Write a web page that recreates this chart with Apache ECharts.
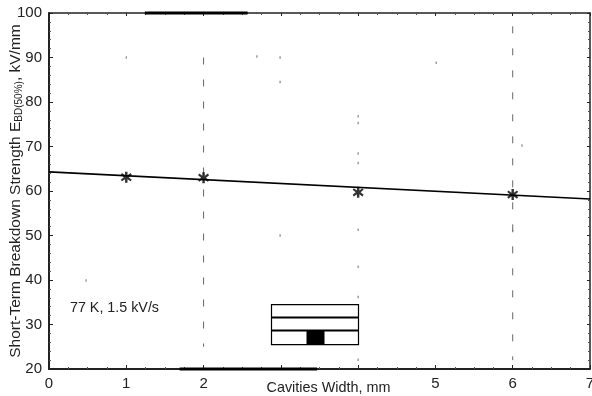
<!DOCTYPE html>
<html>
<head>
<meta charset="utf-8">
<style>html,body{margin:0;padding:0;background:#fff}#chart{width:592px;height:396px}</style>
<script src="https://cdn.jsdelivr.net/npm/echarts@6/dist/echarts.min.js"></script>
</head>
<body>
<div id="chart"></div>
<script>
const widths = [1, 2, 4, 6];
const strengths = [63.1, 63.0, 59.7, 59.2];
const fitX = [0, 7];
const fitY = [64.3, 58.2];
const xTickLabels = [0, 1, 2, 5, 6, 7];
const dashColumns = { 2: [90, 25], 6: [97, 22] };
const scanTop = [1.24, 2.57];
const scanBottom = [1.69, 3.47];
// stray specks left over from the scan
const specks = [[1, 90], [2.69, 90.2], [2.99, 90], [2.99, 84.5], [5.01, 88.8], [4, 76.8], [4, 75.3], [4, 68.4], [4, 66.3],
  [6.12, 70.2], [2.99, 50], [0.48, 39.9], [4, 51.3], [4, 43], [4, 36.2], [4, 22.1], [6, 51]];

const chart = echarts.init(document.getElementById('chart'));
const dark = '#222';

const dashSeries = Object.keys(dashColumns).map((k) => ({
  type: 'line',
  data: [[+k, dashColumns[k][0]], [+k, dashColumns[k][1]]],
  symbol: 'none',
  silent: true,
  lineStyle: { color: '#666', width: 1, type: [7, 15] }
}));

const edge = (range, y) => ({
  type: 'line',
  data: [[range[0], y], [range[1], y]],
  symbol: 'none',
  clip: false,
  silent: true,
  lineStyle: { color: '#000', width: 3 }
});

const insetX = 269, insetY = 304, insetW = 87, insetH = 40;

chart.setOption({
  animation: false,
  grid: { left: 49, right: 2, top: 13, bottom: 27, outerBoundsMode: 'none' },
  xAxis: [
    {
      type: 'value', min: 0, max: 7, interval: 1,
      name: 'Cavities Width, mm',
      nameLocation: 'middle',
      nameMoveOverlap: false,
      nameGap: 12,
      nameTextStyle: { color: dark, fontSize: 14.4, fontFamily: 'Liberation Sans', padding: [0, 0, 0, 18], verticalAlign: 'top' },
      axisLine: { lineStyle: { color: dark, width: 2 } },
      axisTick: { inside: true, length: 4, lineStyle: { color: dark } },
      minorTick: { show: true, splitNumber: 4, length: 2, lineStyle: { color: '#555' } },
      axisLabel: {
        color: dark, fontSize: 15, fontFamily: 'Liberation Sans', margin: 7, hideOverlap: false, showMaxLabel: true, showMinLabel: true,
        formatter: (v) => (xTickLabels.includes(v) ? String(v) : '')
      },
      splitLine: { show: false }
    },
    {
      type: 'value', min: 0, max: 7, interval: 1, position: 'top',
      axisLine: { onZero: false, lineStyle: { color: dark, width: 1.5 } },
      axisTick: { inside: true, length: 3, lineStyle: { color: dark } },
      minorTick: { show: true, splitNumber: 4, length: 2, lineStyle: { color: '#555' } },
      axisLabel: { show: false },
      splitLine: { show: false }
    }
  ],
  yAxis: [
    {
      type: 'value', min: 20, max: 100, interval: 10,
      name: '{a|Short-Term Breakdown Strength E}{b|BD(50%)}{a|, kV/mm}',
      nameLocation: 'middle',
      nameMoveOverlap: false,
      nameGap: 25,
      nameTextStyle: {
        rich: {
          a: { color: dark, fontSize: 15.5, fontFamily: 'Liberation Sans' },
          b: { color: dark, fontSize: 10, fontFamily: 'Liberation Sans', verticalAlign: 'bottom', padding: [6, 0, 0, 0] }
        }
      },
      axisLine: { onZero: false, lineStyle: { color: dark, width: 2 } },
      axisTick: { inside: true, length: 4, lineStyle: { color: dark } },
      minorTick: { show: true, splitNumber: 5, length: 2, lineStyle: { color: '#555' } },
      axisLabel: { color: dark, fontSize: 15, fontFamily: 'Liberation Sans', margin: 7 },
      splitLine: { show: false }
    },
    {
      type: 'value', min: 20, max: 100, interval: 10, position: 'right',
      axisLine: { onZero: false, lineStyle: { color: dark, width: 1.5 } },
      axisTick: { inside: true, length: 3, lineStyle: { color: dark } },
      minorTick: { show: true, splitNumber: 5, length: 2, lineStyle: { color: '#555' } },
      axisLabel: { show: false },
      splitLine: { show: false }
    }
  ],
  series: [
    ...dashSeries,
    edge(scanTop, 100),
    edge(scanBottom, 20),
    {
      type: 'scatter',
      data: specks,
      symbol: 'rect',
      symbolSize: [1.2, 2.5],
      silent: true,
      itemStyle: { color: '#666' }
    },
    {
      type: 'line',
      data: fitX.map((x, i) => [x, fitY[i]]),
      symbol: 'none',
      silent: true,
      lineStyle: { color: '#000', width: 1.6 }
    },
    {
      type: 'scatter',
      data: widths.map((x, i) => [x, strengths[i]]),
      symbol: 'path://M8 0h4v6.500l5-4 2 3L14 10l5 4.500-2 3-5-4V20H8v-6.500l-5 4-2-3L6 10 1 5.500l2-3 5 4z',
      symbolSize: 11,
      itemStyle: { color: '#000' },
      z: 5
    }
  ],
  graphic: [
    {
      type: 'text', left: 70, top: 301,
      style: { text: '77 K, 1.5 kV/s', fontSize: 14.3, fontFamily: 'Liberation Sans', fill: dark }
    },
    {
      type: 'group', left: insetX, top: insetY,
      children: [
        { type: 'rect', shape: { x: 0, y: 0, width: insetW, height: insetH }, style: { fill: '#fff', stroke: '#000', lineWidth: 1.2 } },
        { type: 'line', shape: { x1: 0, y1: 13, x2: insetW, y2: 13 }, style: { stroke: '#000', lineWidth: 2 } },
        { type: 'line', shape: { x1: 0, y1: 26, x2: insetW, y2: 26 }, style: { stroke: '#000', lineWidth: 2 } },
        { type: 'rect', shape: { x: 35, y: 26, width: 18, height: 14 }, style: { fill: '#000' } }
      ]
    }
  ]
});
</script>
</body>
</html>
